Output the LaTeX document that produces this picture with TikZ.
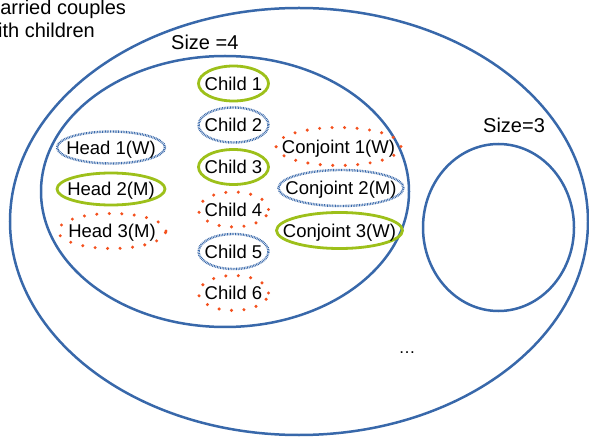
\documentclass[tikz,border=0pt]{standalone}
\usepackage{fontspec}
\setmainfont{Liberation Sans}
\usetikzlibrary{shapes.geometric}
\definecolor{bblue}{HTML}{3868AA}
\definecolor{lgreen}{HTML}{9DC01A}
\definecolor{rdot}{HTML}{F4511E}
\newcommand{\ztext}[1]{\makebox[0pt]{#1}}
\begin{document}
\begin{tikzpicture}[x=1pt,y=1pt,
  big/.style={draw=bblue, line width=2.5pt},
  lbl/.style={font=\fontsize{20}{23}\selectfont, inner sep=0pt},
  item/.style={ellipse, inner sep=0pt, text height=13.2pt, text depth=0pt, font=\fontsize{18.5}{20}\selectfont},
  gring/.style={item, draw=lgreen, line width=2.8pt},
  bdots/.style={item, draw=bblue, line width=2.4pt, dash pattern=on 0.8pt off 0.8pt},
  rdots/.style={item, draw=rdot, line width=3.4pt, line cap=round, dash pattern=on 0pt off 12.5pt},
  childsz/.style={minimum width=70pt, minimum height=35pt},
  headsz/.style={minimum width=108pt, minimum height=32pt},
  conjsz/.style={minimum width=125pt, minimum height=36pt}
]
\path[use as bounding box] (0,0) rectangle (589,-438);
\clip (0,0) rectangle (589,-438);

% containers
\draw[big] (299,-221.5) ellipse [x radius=289, y radius=213.5];
\draw[big] (225,-191.5) ellipse [x radius=184, y radius=135.5];
\draw[big] (498.5,-227.5) ellipse [x radius=75.5, y radius=83.5];

% labels
\node[lbl, anchor=base west] (fam1) at (-16.5,-15) {Married couples};
\node[lbl, anchor=base west] (fam2) at (-16.5,-38) {with children};
\node[lbl, anchor=base west] (s4) at (171,-50) {Size =4};
\node[lbl, anchor=base west] (s3) at (483,-133) {Size=3};
\node[font=\fontsize{17}{20}\selectfont, inner sep=0pt, anchor=base] (dots) at (407,-353) {…};

% children
\node[gring, childsz] (c1) at (233.5,-83.5) {\ztext{Child 1}};
\node[bdots, childsz] (c2) at (233.5,-125) {\ztext{Child 2}};
\node[gring, childsz] (c3) at (233.5,-167) {\ztext{Child 3}};
\node[rdots, childsz] (c4) at (233.5,-209.5) {\ztext{Child 4}};
\node[bdots, childsz] (c5) at (233.5,-251.5) {\ztext{Child 5}};
\node[rdots, childsz] (c6) at (233.5,-293) {\ztext{Child 6}};

% heads
\node[bdots, headsz] (h1) at (111,-147.5) {\ztext{Head 1(W)}};
\node[gring, headsz] (h2) at (111,-189) {\ztext{Head 2(M)}};
\node[rdots, headsz, minimum height=35pt] (h3) at (112,-231) {\ztext{Head 3(M)}};

% conjoints
\node[rdots, conjsz, minimum height=38pt] (j1) at (338.5,-146.5) {\ztext{Conjoint 1(W)}};
\node[bdots, conjsz] (j2) at (341,-188) {\ztext{Conjoint 2(M)}};
\node[gring, conjsz, minimum width=126pt] (j3) at (339.5,-230.5) {\ztext{Conjoint 3(W)}};
\end{tikzpicture}
\end{document}
